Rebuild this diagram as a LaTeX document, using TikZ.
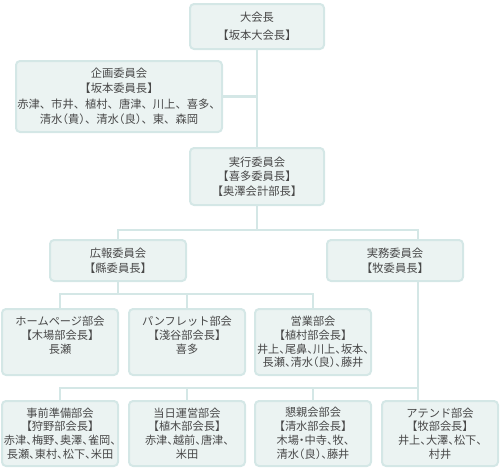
\documentclass[tikz,border=0pt]{standalone}
\usepackage{fontspec}
\newfontfamily\jp{Noto Sans CJK JP}
\newfontfamily\jph[RawFeature=+halt]{Noto Sans CJK JP}
\usetikzlibrary{calc}
\definecolor{lineC}{RGB}{212,231,230}
\definecolor{fillC}{RGB}{235,243,242}
\definecolor{textC}{RGB}{72,72,72}
\begin{document}
\begin{tikzpicture}[x=1pt,y=-1pt,
  box/.style={draw=lineC, fill=fillC, line width=2pt, rounded corners=4pt,
    inner sep=0pt, align=center, text=textC, font=\jp\fontsize{11.3}{14.5}\selectfont},
  boxh/.style={box, font=\jph\fontsize{11.2}{13.8}\selectfont},
  conn/.style={draw=lineC, line width=2.6pt}]
\useasboundingbox (0,0) rectangle (500,469);

% top level
\node[box, minimum width=134pt, minimum height=45pt, font=\jp\fontsize{11.3}{18}\selectfont] (dai) at (257,26.5)
  {大会長\\【坂本大会長】};
\node[box, minimum width=206pt, minimum height=71pt, font=\jp\fontsize{11.3}{15.5}\selectfont] (kikaku) at (119,96.5)
  {企画委員会\\【坂本委員長】\\赤津、市井、植村、唐津、川上、喜多、\\清水{\jph（}貴{\jph）}、清水{\jph（}良{\jph）}、東、森岡};
\node[box, minimum width=134pt, minimum height=57pt] (jikko) at (257,176.5)
  {実行委員会\\【喜多委員長】\\【奥澤会計部長】};

% committees
\node[box, minimum width=136pt, minimum height=41pt] (koho) at (118,260.5)
  {広報委員会\\【縣委員長】};
\node[box, minimum width=136pt, minimum height=41pt] (jitsumu) at (395,260.5)
  {実務委員会\\【牧委員長】};

% row 3
\node[boxh, minimum width=116pt, minimum height=66pt] (hp) at (60,342)
  {ホームページ部会\\【木場部会長】\\長瀬\\\phantom{長}};
\node[boxh, minimum width=116pt, minimum height=66pt] (pan) at (187,342)
  {パンフレット部会\\【淺谷部会長】\\喜多\\\phantom{長}};
\node[boxh, minimum width=116pt, minimum height=66pt] (eigyo) at (313,342)
  {営業部会\\【植村部会長】\\井上、尾鼻、川上、坂本、\\長瀬、清水（良）、藤井};

% row 4
\node[boxh, minimum width=116pt, minimum height=65pt] (jizen) at (60,433.5)
  {事前準備部会\\【狩野部会長】\\赤津、梅野、奥澤、雀岡、\\長瀬、東村、松下、米田};
\node[boxh, minimum width=116pt, minimum height=65pt] (tojitsu) at (187,433.5)
  {当日運営部会\\【植木部会長】\\赤津、越前、唐津、\\米田};
\node[boxh, minimum width=116pt, minimum height=65pt] (konshin) at (313,433.5)
  {懇親会部会\\【清水部会長】\\木場・中寺、牧、\\清水（良）、藤井};
\node[boxh, minimum width=116pt, minimum height=65pt] (attend) at (440,433.5)
  {アテンド部会\\【牧部会長】\\井上、大澤、松下、\\村井};

% connector points
\coordinate (kj) at (dai.south |- kikaku.east);
\coordinate (j1) at ($(jikko.south)+(0,24)$);
\coordinate (jmTop) at ($(jitsumu.north)+(23,0)$);
\coordinate (jmBot) at ($(jitsumu.south)+(23,0)$);
\coordinate (j2) at ($(koho.south)+(0,12)$);
\coordinate (j3) at ($(jmBot)+(0,106)$);
\coordinate (atTop) at ($(attend.north)+(-22,0)$);

% connectors
\draw[conn] (dai.south) -- (jikko.north);
\draw[conn] (kikaku.east) -- (kj);
\draw[conn] (jikko.south) -- (j1);
\draw[conn] (koho.north) -- (koho.north |- j1) -- (jmTop |- j1) -- (jmTop);
\draw[conn] (koho.south) -- (j2);
\draw[conn] (hp.north) -- (hp.north |- j2) -- (eigyo.north |- j2) -- (eigyo.north);
\draw[conn] (pan.north) -- (pan.north |- j2);
\draw[conn] (jmBot) -- (atTop);
\draw[conn] (jizen.north) -- (jizen.north |- j3) -- (j3);
\draw[conn] (tojitsu.north) -- (tojitsu.north |- j3);
\draw[conn] (konshin.north) -- (konshin.north |- j3);
\end{tikzpicture}
\end{document}
